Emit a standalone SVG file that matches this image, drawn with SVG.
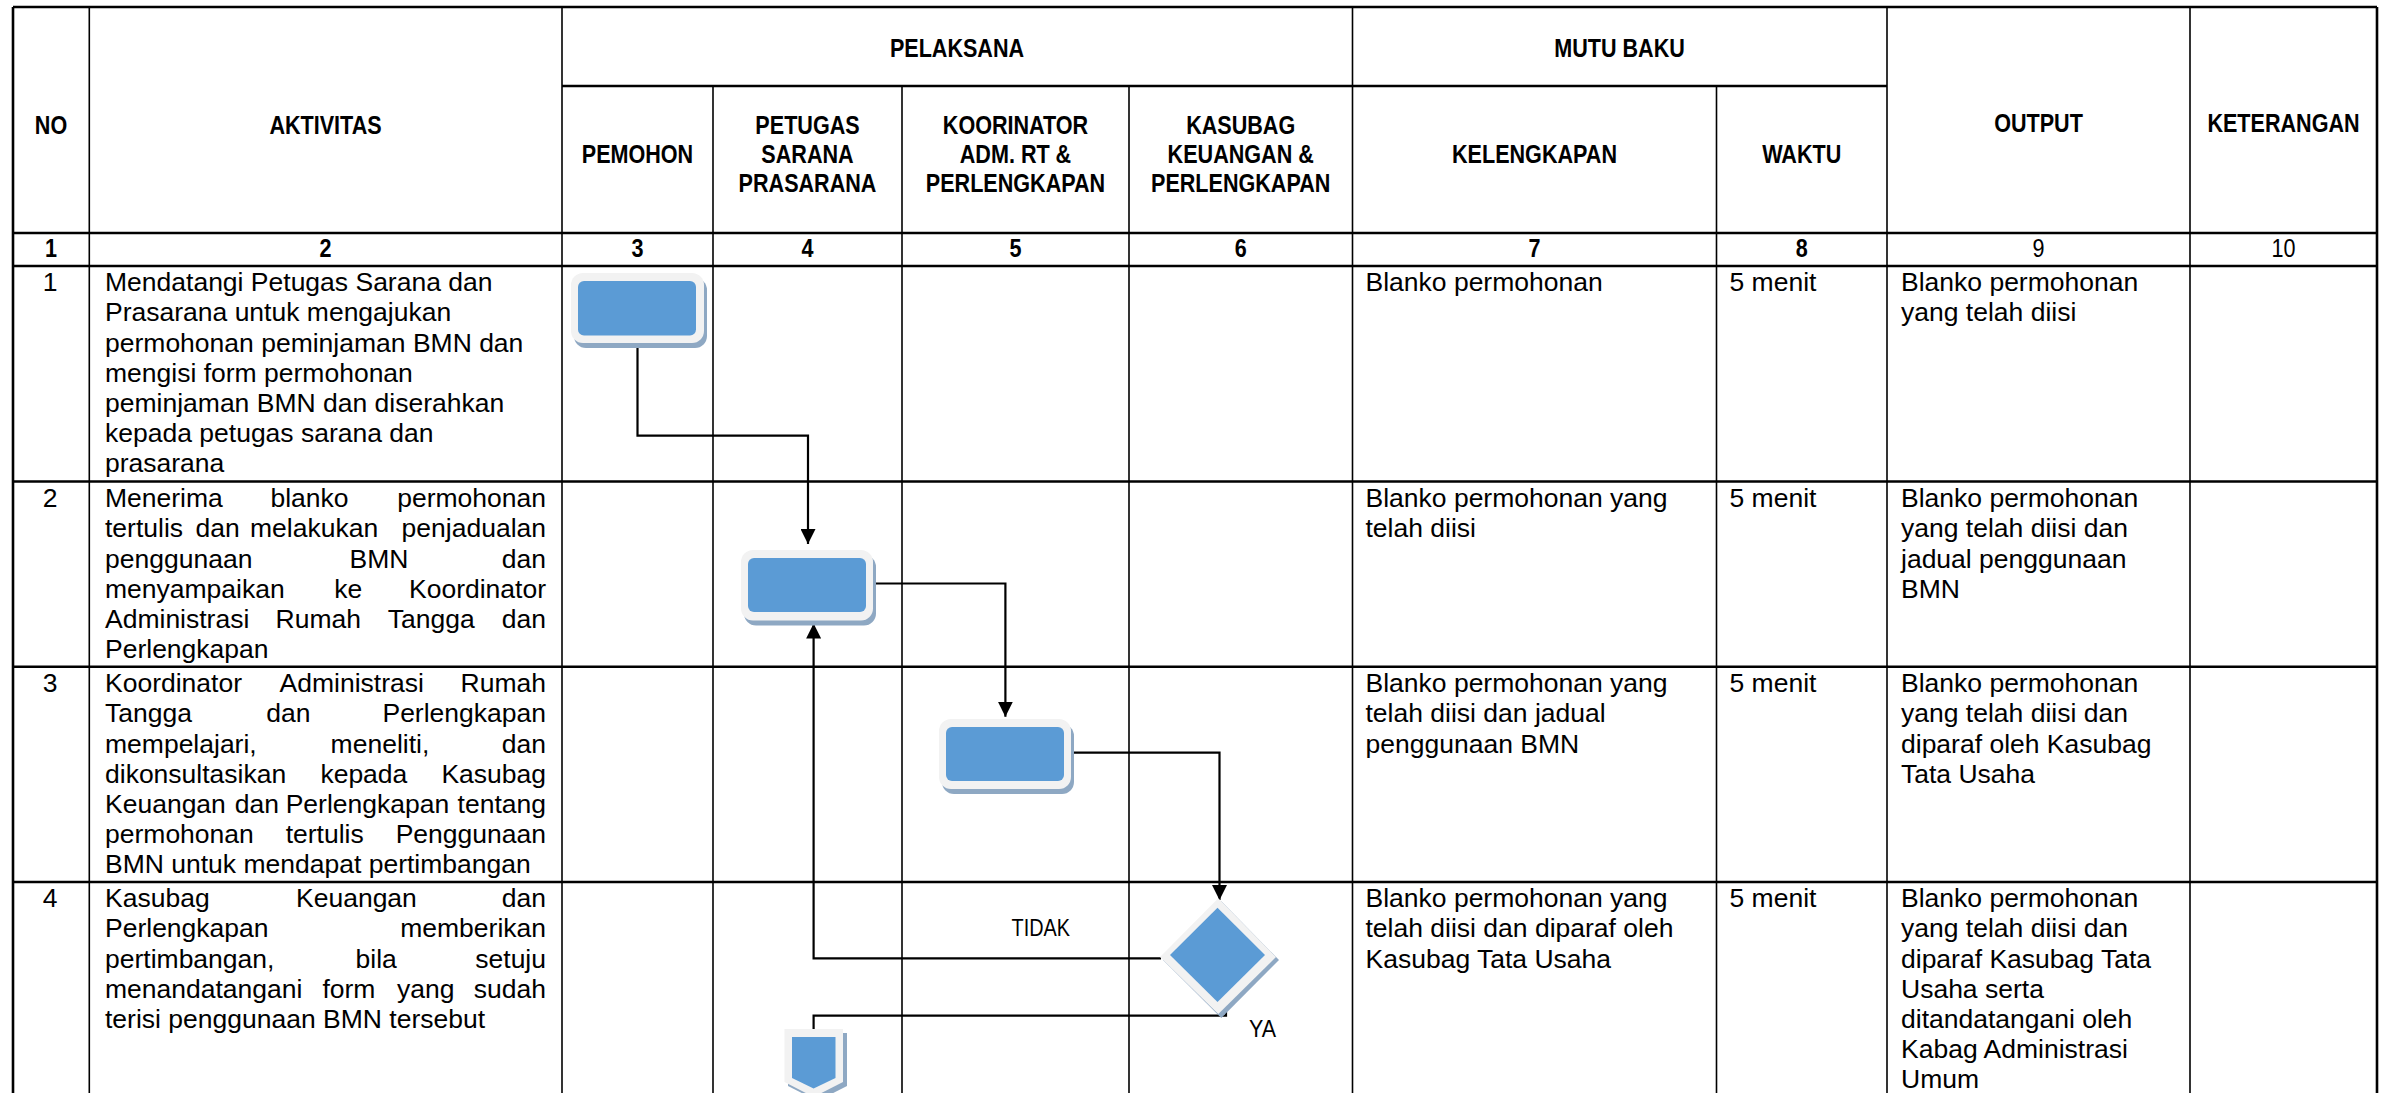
<svg xmlns="http://www.w3.org/2000/svg" width="2383" height="1093" viewBox="0 0 2383 1093">
<style>
.h{font-family:"Liberation Sans",Arial,sans-serif;font-weight:bold;font-size:26px;fill:#000;text-anchor:middle}
.n{font-family:"Liberation Sans",Arial,sans-serif;font-size:26px;fill:#000;text-anchor:middle}
.t{font-family:"Liberation Sans",Arial,sans-serif;font-size:26.5px;fill:#000}
.e{text-anchor:end}
.m{text-anchor:middle}
.lbl{font-family:"Liberation Sans",Arial,sans-serif;font-size:24px;fill:#000}
.hl{stroke:#000;stroke-width:2.6;fill:none}
.vl{stroke:#000;stroke-width:1.6;fill:none}
.ol{stroke:#000;stroke-width:2.6;fill:none}
.sh{fill:#8EA8C3}
.out{fill:#F2F2F2}
.blue{fill:#5B9BD5}
.conn{stroke:#000;stroke-width:2.2;fill:none}
</style>
<defs>
<marker id="arrow" viewBox="0 0 10 10" refX="10" refY="5" markerUnits="userSpaceOnUse" markerWidth="15" markerHeight="15" orient="auto">
<path d="M0,0 L10,5 L0,10 z" fill="#000"/>
</marker>
</defs>
<rect width="2383" height="1093" fill="#fff"/>

<g id="table">
<line class="ol" x1="13" y1="7" x2="2377" y2="7"/>
<line class="ol" x1="13" y1="7" x2="13" y2="1093"/>
<line class="ol" x1="2377" y1="7" x2="2377" y2="1093"/>
<line class="hl" x1="562" y1="86" x2="1887" y2="86"/>
<line class="hl" x1="13" y1="233" x2="2377" y2="233"/>
<line class="hl" x1="13" y1="266" x2="2377" y2="266"/>
<line class="hl" x1="13" y1="481.5" x2="2377" y2="481.5"/>
<line class="hl" x1="13" y1="666.7" x2="2377" y2="666.7"/>
<line class="hl" x1="13" y1="882" x2="2377" y2="882"/>
<line class="vl" x1="89.3" y1="7" x2="89.3" y2="1093"/>
<line class="vl" x1="562" y1="7" x2="562" y2="1093"/>
<line class="vl" x1="713" y1="86" x2="713" y2="1093"/>
<line class="vl" x1="902" y1="86" x2="902" y2="1093"/>
<line class="vl" x1="1129" y1="86" x2="1129" y2="1093"/>
<line class="vl" x1="1352.5" y1="7" x2="1352.5" y2="1093"/>
<line class="vl" x1="1716.5" y1="86" x2="1716.5" y2="1093"/>
<line class="vl" x1="1887" y1="7" x2="1887" y2="1093"/>
<line class="vl" x1="2190" y1="7" x2="2190" y2="1093"/>
</g>

<g id="header" transform="scale(0.83 1)">
<text class="h" x="61.45" y="134">NO</text>
<text class="h" x="392.17" y="134">AKTIVITAS</text>
<text class="h" x="1153.01" y="57">PELAKSANA</text>
<text class="h" x="1951.2" y="57">MUTU BAKU</text>
<text class="h" x="768.07" y="163">PEMOHON</text>
<text class="h" x="972.89" y="134">PETUGAS</text>
<text class="h" x="972.89" y="163">SARANA</text>
<text class="h" x="972.89" y="192">PRASARANA</text>
<text class="h" x="1223.49" y="134">KOORINATOR</text>
<text class="h" x="1223.49" y="163">ADM. RT &amp;</text>
<text class="h" x="1223.49" y="192">PERLENGKAPAN</text>
<text class="h" x="1494.82" y="134">KASUBAG</text>
<text class="h" x="1494.82" y="163">KEUANGAN &amp;</text>
<text class="h" x="1494.82" y="192">PERLENGKAPAN</text>
<text class="h" x="1848.8" y="163">KELENGKAPAN</text>
<text class="h" x="2170.72" y="163">WAKTU</text>
<text class="h" x="2456.02" y="132">OUTPUT</text>
<text class="h" x="2751.2" y="132">KETERANGAN</text>
<text class="h" x="61.45" y="257.5">1</text>
<text class="h" x="392.17" y="257.5">2</text>
<text class="h" x="768.07" y="257.5">3</text>
<text class="h" x="972.89" y="257.5">4</text>
<text class="h" x="1223.49" y="257.5">5</text>
<text class="h" x="1494.82" y="257.5">6</text>
<text class="h" x="1848.8" y="257.5">7</text>
<text class="h" x="2170.72" y="257.5">8</text>
<text class="n" x="2456.02" y="257.5">9</text>
<text class="n" x="2751.2" y="257.5">10</text>
</g>

<g id="row1-text">
<text class="t m" x="50" y="291">1</text>
<text class="t" x="105" y="291">Mendatangi Petugas Sarana dan</text>
<text class="t" x="105" y="321">Prasarana untuk mengajukan</text>
<text class="t" x="105" y="351.5">permohonan peminjaman BMN dan</text>
<text class="t" x="105" y="382">mengisi form permohonan</text>
<text class="t" x="105" y="412">peminjaman BMN dan diserahkan</text>
<text class="t" x="105" y="442">kepada petugas sarana dan</text>
<text class="t" x="105" y="472">prasarana</text>
<text class="t" x="1365.5" y="291">Blanko permohonan</text>
<text class="t" x="1729.5" y="291">5 menit</text>
<text class="t" x="1901" y="291">Blanko permohonan</text>
<text class="t" x="1901" y="321">yang telah diisi</text>
</g>

<g id="row2-text">
<text class="t m" x="50" y="507">2</text>
<text class="t" x="105" y="507">Menerima</text><text class="t" x="270.4" y="507">blanko</text><text class="t e" x="546" y="507">permohonan</text>
<text class="t" x="105" y="537">tertulis</text><text class="t" x="195.5" y="537">dan</text><text class="t" x="250" y="537">melakukan</text><text class="t e" x="546" y="537">penjadualan</text>
<text class="t" x="105" y="567.5">penggunaan</text><text class="t" x="349.5" y="567.5">BMN</text><text class="t e" x="546" y="567.5">dan</text>
<text class="t" x="105" y="598">menyampaikan</text><text class="t" x="334.2" y="598">ke</text><text class="t e" x="546" y="598">Koordinator</text>
<text class="t" x="105" y="628">Administrasi</text><text class="t" x="275.5" y="628">Rumah</text><text class="t" x="387.8" y="628">Tangga</text><text class="t e" x="546" y="628">dan</text>
<text class="t" x="105" y="658">Perlengkapan</text>
<text class="t" x="1365.5" y="507">Blanko permohonan yang</text>
<text class="t" x="1365.5" y="537">telah diisi</text>
<text class="t" x="1729.5" y="507">5 menit</text>
<text class="t" x="1901" y="507">Blanko permohonan</text>
<text class="t" x="1901" y="537">yang telah diisi dan</text>
<text class="t" x="1901" y="567.5">jadual penggunaan</text>
<text class="t" x="1901" y="598">BMN</text>
</g>

<g id="row3-text">
<text class="t m" x="50" y="692">3</text>
<text class="t" x="105" y="692">Koordinator</text><text class="t" x="279.6" y="692">Administrasi</text><text class="t e" x="546" y="692">Rumah</text>
<text class="t" x="105" y="722">Tangga</text><text class="t" x="266.3" y="722">dan</text><text class="t e" x="546" y="722">Perlengkapan</text>
<text class="t" x="105" y="752.5">mempelajari,</text><text class="t" x="330.6" y="752.5">meneliti,</text><text class="t e" x="546" y="752.5">dan</text>
<text class="t" x="105" y="783">dikonsultasikan</text><text class="t" x="320.4" y="783">kepada</text><text class="t e" x="546" y="783">Kasubag</text>
<text class="t" x="105" y="813">Keuangan</text><text class="t" x="234.7" y="813">dan</text><text class="t" x="285.7" y="813">Perlengkapan</text><text class="t e" x="546" y="813">tentang</text>
<text class="t" x="105" y="843">permohonan</text><text class="t" x="285.7" y="843">tertulis</text><text class="t e" x="546" y="843">Penggunaan</text>
<text class="t" x="105" y="873">BMN untuk mendapat pertimbangan</text>
<text class="t" x="1365.5" y="692">Blanko permohonan yang</text>
<text class="t" x="1365.5" y="722">telah diisi dan jadual</text>
<text class="t" x="1365.5" y="752.5">penggunaan BMN</text>
<text class="t" x="1729.5" y="692">5 menit</text>
<text class="t" x="1901" y="692">Blanko permohonan</text>
<text class="t" x="1901" y="722">yang telah diisi dan</text>
<text class="t" x="1901" y="752.5">diparaf oleh Kasubag</text>
<text class="t" x="1901" y="783">Tata Usaha</text>
</g>

<g id="row4-text">
<text class="t m" x="50" y="907">4</text>
<text class="t" x="105" y="907">Kasubag</text><text class="t" x="296" y="907">Keuangan</text><text class="t e" x="546" y="907">dan</text>
<text class="t" x="105" y="937">Perlengkapan</text><text class="t e" x="546" y="937">memberikan</text>
<text class="t" x="105" y="968">pertimbangan,</text><text class="t" x="355.6" y="968">bila</text><text class="t e" x="546" y="968">setuju</text>
<text class="t" x="105" y="998">menandatangani</text><text class="t" x="322.4" y="998">form</text><text class="t" x="397" y="998">yang</text><text class="t e" x="546" y="998">sudah</text>
<text class="t" x="105" y="1028">terisi penggunaan BMN tersebut</text>
<text class="t" x="1365.5" y="907">Blanko permohonan yang</text>
<text class="t" x="1365.5" y="937">telah diisi dan diparaf oleh</text>
<text class="t" x="1365.5" y="968">Kasubag Tata Usaha</text>
<text class="t" x="1729.5" y="907">5 menit</text>
<text class="t" x="1901" y="907">Blanko permohonan</text>
<text class="t" x="1901" y="937">yang telah diisi dan</text>
<text class="t" x="1901" y="968">diparaf Kasubag Tata</text>
<text class="t" x="1901" y="998">Usaha serta</text>
<text class="t" x="1901" y="1028">ditandatangani oleh</text>
<text class="t" x="1901" y="1058">Kabag Administrasi</text>
<text class="t" x="1901" y="1088">Umum</text>
</g>

<g id="connectors">
<path class="conn" d="M637.5 343 V435.7 H808 V544" marker-end="url(#arrow)"/>
<path class="conn" d="M866 583.5 H1005.4 V716.7" marker-end="url(#arrow)"/>
<path class="conn" d="M1069 752.7 H1219.5 V900" marker-end="url(#arrow)"/>
<path class="conn" d="M1161 958.3 H813.6 V623.5" marker-end="url(#arrow)"/>
<path class="conn" d="M1226 1005.7 V1015.7 H813.6 V1030"/>
<text class="lbl" x="1011.5" y="936" textLength="58.5" lengthAdjust="spacingAndGlyphs">TIDAK</text>
<text class="lbl" x="1249" y="1036.7" textLength="27" lengthAdjust="spacingAndGlyphs">YA</text>
</g>

<g id="node-pemohon">
<rect class="sh" x="574" y="278" width="133" height="70" rx="12"/>
<rect class="out" x="571" y="273" width="133" height="70" rx="12"/>
<rect class="blue" x="578" y="281" width="118" height="54.5" rx="6"/>
</g>

<g id="node-petugas">
<rect class="sh" x="744" y="555" width="132" height="70.5" rx="12"/>
<rect class="out" x="741" y="550" width="132" height="70.5" rx="12"/>
<rect class="blue" x="748" y="558" width="118" height="54" rx="6"/>
</g>

<g id="node-koordinator">
<rect class="sh" x="942" y="724" width="132" height="70" rx="12"/>
<rect class="out" x="939" y="719" width="132" height="70" rx="12"/>
<rect class="blue" x="946" y="727" width="118" height="54" rx="6"/>
</g>

<g id="node-kasubag-decision">
<polygon class="sh" points="1221.3,901.3 1279,960 1221.3,1018 1163,960"/>
<polygon class="out" points="1218.3,898.3 1276,957 1218.3,1014 1160,957"/>
<polygon class="blue" points="1217.5,907.7 1265,955 1217.5,1002 1170,955"/>
</g>

<g id="node-offpage">
<polygon class="sh" points="788,1033 847,1033 847,1086 817.5,1101 788,1086"/>
<polygon class="out" points="784.5,1029 843,1029 843,1082 813.6,1097 784.5,1082"/>
<polygon class="blue" points="792,1037 835.5,1037 835.5,1078 813.6,1088.5 792,1078"/>
</g>
</svg>
